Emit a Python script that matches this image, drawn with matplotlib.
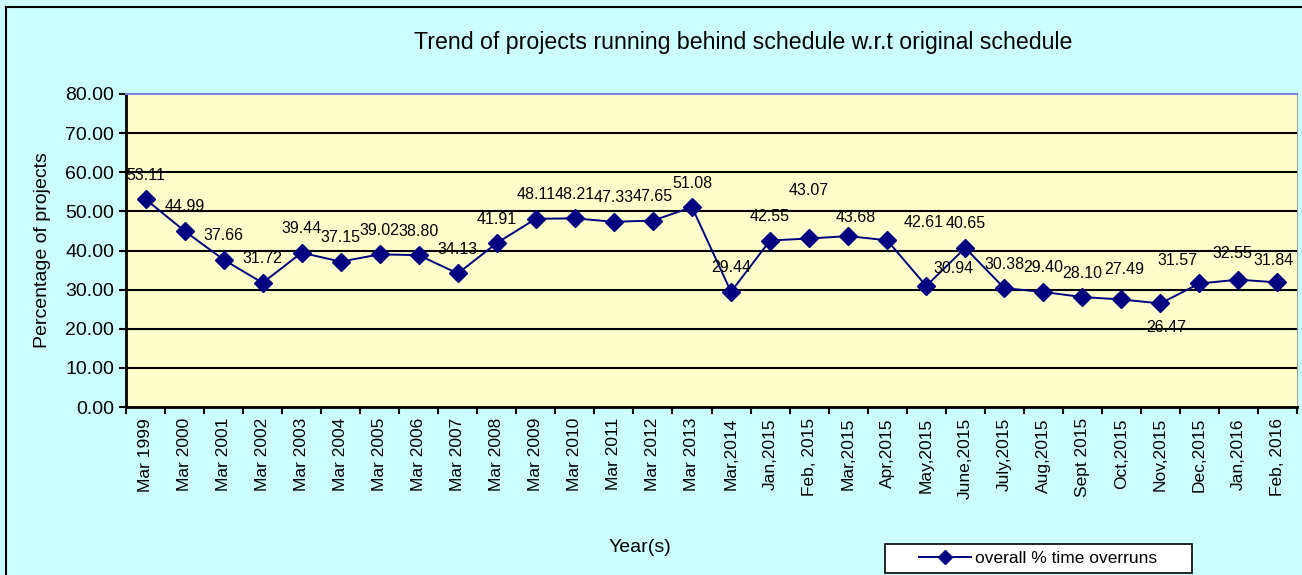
import matplotlib.pyplot as plt
from matplotlib.lines import Line2D
from matplotlib.patches import Rectangle

plt.rcParams['font.family'] = ['Liberation Sans', 'DejaVu Sans']

periods = ['Mar 1999', 'Mar 2000', 'Mar 2001', 'Mar 2002', 'Mar 2003', 'Mar 2004',
           'Mar 2005', 'Mar 2006', 'Mar 2007', 'Mar 2008', 'Mar 2009', 'Mar 2010',
           'Mar 2011', 'Mar 2012', 'Mar 2013', 'Mar,2014', 'Jan,2015', 'Feb, 2015',
           'Mar,2015', 'Apr,2015', 'May,2015', 'June,2015', 'July,2015', 'Aug,2015',
           'Sept 2015', 'Oct,2015', 'Nov,2015', 'Dec,2015', 'Jan,2016', 'Feb, 2016']
overruns = [53.11, 44.99, 37.66, 31.72, 39.44, 37.15, 39.02, 38.80, 34.13, 41.91,
            48.11, 48.21, 47.33, 47.65, 51.08, 29.44, 42.55, 43.07, 43.68, 42.61,
            30.94, 40.65, 30.38, 29.40, 28.10, 27.49, 26.47, 31.57, 32.55, 31.84]

# label offsets in pixels (the original chart had some labels dragged around)
label_dx = [0] * 30
label_dy = [24] * 30
label_dy[17] = 48
label_dx[18], label_dy[18] = 8, 19
label_dx[19], label_dy[19] = 36, 18
label_dx[20], label_dy[20] = 27, 17
label_dx[25], label_dy[25] = 3, 30
label_dx[26], label_dy[26] = 6, -24
label_dx[27], label_dy[27] = -22, 23
label_dx[28], label_dy[28] = -6, 26
label_dx[29], label_dy[29] = -4, 22

fig = plt.figure(figsize=(13.02, 5.75), dpi=100, facecolor='#CCFFFF')
ax = fig.add_axes([126 / 1302, 1 - 407 / 575, 1171 / 1302, 313 / 575])
ax.set_facecolor('#FFFFCC')

x = list(range(len(periods)))
ax.plot(x, overruns, color='#000080', linewidth=1.4, marker='D',
        markersize=9, markerfacecolor='#000080', markeredgecolor='#000080',
        zorder=3)

for i, v in enumerate(overruns):
    ax.annotate('%.2f' % v, (i, v), xytext=(label_dx[i], label_dy[i]),
                textcoords='offset pixels', ha='center', va='center',
                fontsize=11.5, color='black')

ax.set_xlim(-0.5, len(periods) - 0.5)
ax.set_ylim(0, 80)
ax.set_yticks(range(0, 81, 10))
ax.set_yticklabels(['%.2f' % t for t in range(0, 81, 10)], fontsize=14)
ax.set_xticks(x)
ax.set_xticklabels(periods, rotation=90, fontsize=12.5)
ax.set_xticks([i - 0.5 for i in range(len(periods) + 1)], minor=True)
ax.tick_params(axis='x', which='major', length=0, pad=8)
ax.tick_params(axis='x', which='minor', length=5, width=1.5, direction='out')
ax.tick_params(axis='y', length=5, width=1.5, direction='out')

for t in range(10, 80, 10):
    ax.axhline(t, color='black', linewidth=1.5, zorder=1)

ax.spines['left'].set_linewidth(2)
ax.spines['bottom'].set_linewidth(2)
ax.spines['top'].set_color('#8080E0')
ax.spines['top'].set_linewidth(1.5)
ax.spines['right'].set_color('#A0A0A0')

ax.set_ylabel('Percentage of projects', fontsize=14, labelpad=10)
fig.text(640 / 1302, 1 - 548 / 575, 'Year(s)', fontsize=14, ha='center', va='center')
fig.text(743 / 1302, 1 - 42 / 575,
         'Trend of projects running behind schedule w.r.t original schedule',
         fontsize=16.7, ha='center', va='center')

# legend box drawn by hand to get the wide padding of the original
fig.add_artist(Rectangle((885 / 1302, 1 - 573 / 575), 307 / 1302, 29 / 575,
                         transform=fig.transFigure, facecolor='white',
                         edgecolor='black', linewidth=1.2))
handle = Line2D([], [], color='#000080', marker='D', markersize=7, linewidth=1.4)
fig.legend([handle], ['overall % time overruns'], loc='center',
           bbox_to_anchor=(1038 / 1302, 1 - 558 / 575), fontsize=12.5,
           frameon=False, handlelength=3, handletextpad=0.2)

# outer chart border
fig.add_artist(Line2D([6 / 1302, 1], [1 - 7 / 575, 1 - 7 / 575], color='black', linewidth=1.5))
fig.add_artist(Line2D([6 / 1302, 6 / 1302], [0, 1 - 7 / 575], color='black', linewidth=1.5))

plt.savefig('out.png', facecolor=fig.get_facecolor())
